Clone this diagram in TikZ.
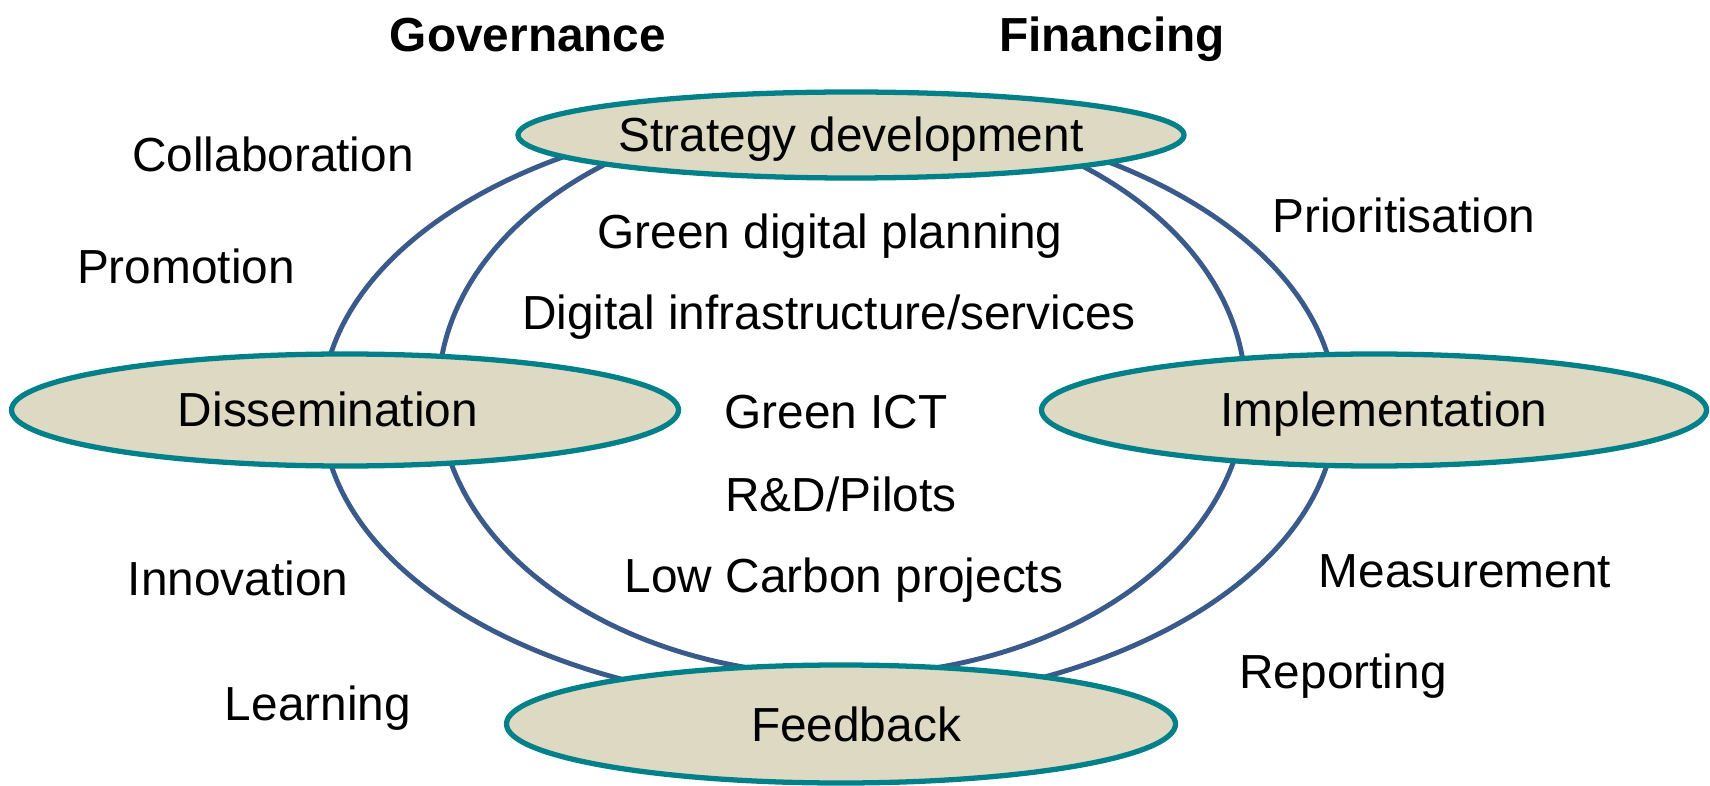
\documentclass[tikz,border=0pt]{standalone}
\usepackage{fontspec}
\setmainfont{Liberation Sans}
\usetikzlibrary{shapes.geometric}
\definecolor{stagefill}{HTML}{DDD9C3}
\definecolor{stageline}{HTML}{00818A}
\definecolor{ringline}{HTML}{3B5A8C}
\tikzset{
	ring/.style={draw=ringline, line width=1.4pt},
	stage/.style={ellipse, draw=stageline, line width=1.5pt, fill=stagefill, inner sep=0pt,
		text height=0.40cm, text depth=0.06cm},
	lbl/.style={anchor=base, inner sep=0pt}
}
\begin{document}
\begin{tikzpicture}[font=\fontsize{13.6}{16}\selectfont, line join=round, line cap=round]
	\useasboundingbox (0,0) rectangle (17.1,7.85);
	% the two rings behind the stages
	\draw[ring] (8.29,3.76) ellipse (5.07 and 2.96);
	\draw[ring] (8.42,3.92) ellipse (4.035 and 2.825);
	% stages
	\node[stage, minimum width=6.66cm, minimum height=0.86cm] (S) at (8.51,6.50) {Strategy development};
	\node[stage, minimum width=6.67cm, minimum height=1.12cm] (D) at (3.45,3.75) {Dissemination\kern0.34cm};
	\node[stage, minimum width=6.65cm, minimum height=1.12cm] (I) at (13.74,3.75) {\kern0.20cm Implementation};
	\node[stage, minimum width=6.69cm, minimum height=1.18cm] (F) at (8.41,0.61) {\kern0.30cm Feedback};
	% headings
	\node[lbl] (gov) at (5.28,7.33) {\bfseries Governance};
	\node[lbl] (fin) at (11.12,7.33) {\bfseries Financing};
	% outer labels
	\node[lbl] (col) at (2.73,6.13) {Collaboration};
	\node[lbl] (pro) at (1.86,5.01) {Promotion};
	\node[lbl] (pri) at (14.04,5.52) {Prioritisation};
	\node[lbl] (inn) at (2.38,1.90) {Innovation};
	\node[lbl] (lea) at (3.18,0.65) {Learning};
	\node[lbl] (mea) at (14.65,1.98) {Measurement};
	\node[lbl] (rep) at (13.43,0.97) {Reporting};
	% inner labels
	\node[lbl] (gdp) at (8.30,5.36) {Green digital planning};
	\node[lbl] (dis) at (8.29,4.55) {Digital infrastructure/services};
	\node[lbl] (ict) at (8.36,3.56) {Green ICT};
	\node[lbl] (rdp) at (8.41,2.74) {R\&D/Pilots};
	\node[lbl] (lcp) at (8.44,1.93) {Low Carbon projects};
\end{tikzpicture}
\end{document}
